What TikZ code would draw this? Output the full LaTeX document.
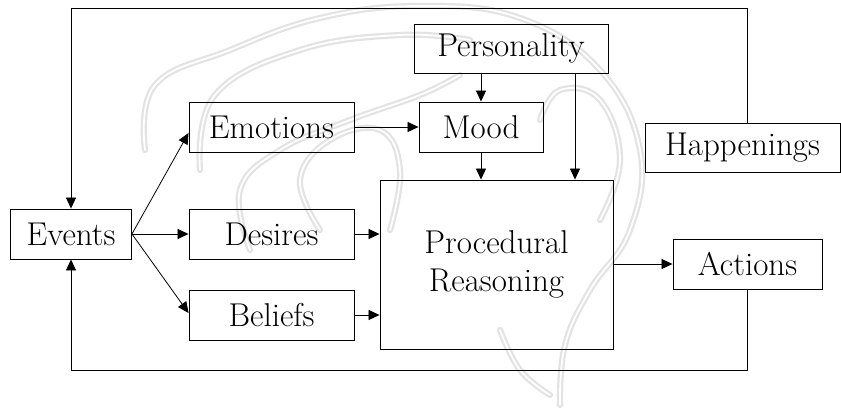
\documentclass[tikz,border=0pt]{standalone}
\usetikzlibrary{arrows.meta,calc}
\begin{document}
\begin{tikzpicture}[x=1pt,y=-1pt,
  box/.style={draw, line width=0.9pt, inner sep=0pt, align=center, font=\fontsize{33}{38}\selectfont},
  conn/.style={line width=0.8pt},
  arr/.style={conn, -{Triangle[length=11pt,width=10pt]}},
  wm/.style={draw=gray!22, line width=2.2pt, double=white, double distance=1.8pt, line cap=round, line join=round}]
\useasboundingbox (0,0) rectangle (841,416);
% faint watermark
\draw[wm] plot[smooth, tension=0.7] coordinates {(145,150) (155,85) (230,50) (320,18) (420,6) (520,18) (600,70) (640,150) (630,230) (590,290) (565,345) (560,405)};
\draw[wm] plot[smooth, tension=0.7] coordinates {(200,170) (215,95) (300,50) (400,35) (470,40)};
\draw[wm] plot[smooth, tension=0.7] coordinates {(250,250) (240,190) (280,150) (350,120) (420,95) (460,75)};
\draw[wm] plot[smooth, tension=0.7] coordinates {(320,230) (300,180) (330,140) (380,130) (400,170) (390,230)};
\draw[wm] plot[smooth, tension=0.7] coordinates {(540,120) (560,90) (600,100) (620,160) (600,220)};
\draw[wm] plot[smooth, tension=0.7] coordinates {(500,330) (520,370) (550,395)};
\node[box, minimum width=121pt, minimum height=50pt] (events) at (71,234) {Events};
\node[box, minimum width=165pt, minimum height=50pt] (emo) at (271.5,127) {Emotions};
\node[box, minimum width=165pt, minimum height=50pt] (des) at (271.5,234) {Desires};
\node[box, minimum width=165pt, minimum height=50pt] (bel) at (271.5,315) {Beliefs};
\node[box, minimum width=194pt, minimum height=49pt] (pers) at (511,48.5) {Personality};
\node[box, minimum width=124pt, minimum height=50pt] (mood) at (481,127) {Mood};
\node[box, minimum width=233pt, minimum height=169pt] (pr) at (496.5,264.5) {Procedural\\Reasoning};
\node[box, minimum width=195pt, minimum height=49pt] (happ) at (742.5,147.5) {Happenings};
\node[box, minimum width=149pt, minimum height=50pt] (act) at (747.5,264) {Actions};
\coordinate (topy) at (0,8);
\coordinate (boty) at (0,370);
\coordinate (px) at (575,0);
% loops
\draw[arr] (act.south |- happ.north) -- (act.south |- topy) -| (events.north);
\draw[arr] (act.south) -- (act.south |- boty) -| (events.south);
% fan out from events
\draw[arr] (events.east) -- ($(emo.west)+(0,6)$);
\draw[arr] (events.east) -- (des.west);
\draw[arr] (events.east) -- ($(bel.west)+(0,-2)$);
% others
\draw[arr] (emo.east) -- (mood.west);
\draw[arr] (pers.south -| mood.north) -- (mood.north);
\draw[arr] (pers.south -| px) -- (pr.north -| px);
\draw[arr] (mood.south) -- (mood.south |- pr.north);
\draw[arr] (des.east) -- (des.east -| pr.west);
\draw[arr] (bel.east) -- (bel.east -| pr.west);
\draw[arr] (act.west -| pr.east) -- (act.west);
\end{tikzpicture}
\end{document}
